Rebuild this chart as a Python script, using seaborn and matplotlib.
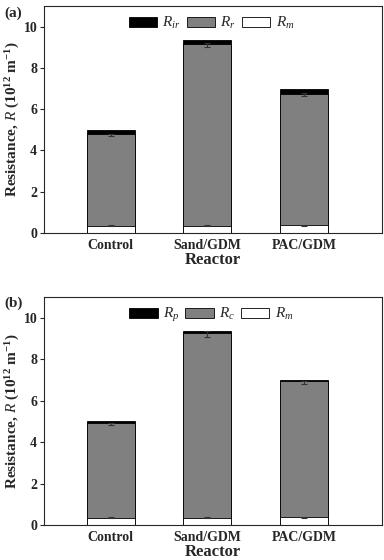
import numpy as np
import pandas as pd
import matplotlib
matplotlib.use("Agg")
import matplotlib.pyplot as plt
import seaborn as sns
from matplotlib.patches import Patch

sns.set_style("ticks")
plt.rcParams['font.family'] = ['Liberation Serif', 'DejaVu Serif']
plt.rcParams['mathtext.fontset'] = 'custom'
plt.rcParams['mathtext.it'] = 'Liberation Serif:italic'
plt.rcParams['mathtext.rm'] = 'Liberation Serif:bold'
plt.rcParams['mathtext.bf'] = 'Liberation Serif:bold'

reactors = ['Control', 'Sand/GDM', 'PAC/GDM']

# panel (a): membrane, reversible, irreversible resistance
a_rm = [0.35, 0.35, 0.38]
a_rr = [4.45, 8.80, 6.37]
a_rir = [0.20, 0.20, 0.23]
a_rr_err = [0.06, 0.10, 0.08]
a_rm_err = [0.02, 0.02, 0.02]

# panel (b): membrane, cake, pore blocking resistance
b_rm = [0.35, 0.35, 0.37]
b_rc = [4.57, 8.90, 6.55]
b_rp = [0.08, 0.10, 0.08]
b_rc_err = [0.06, 0.15, 0.08]
b_rm_err = [0.02, 0.02, 0.02]

fig = plt.figure(figsize=(3.84, 5.6), dpi=100)
ax1 = fig.add_axes([0.115, 0.584, 0.88, 0.405])
ax2 = fig.add_axes([0.115, 0.0625, 0.88, 0.4075])


def draw_panel(ax, rm, mid, top, mid_err, rm_err, labels, tag):
    df = pd.DataFrame({'Reactor': reactors,
                       'rm': rm,
                       'mid': np.array(rm) + np.array(mid),
                       'total': np.array(rm) + np.array(mid) + np.array(top)})
    sns.barplot(data=df, x='Reactor', y='total', color='black', width=0.5,
                edgecolor='black', linewidth=0.6, saturation=1, ax=ax)
    sns.barplot(data=df, x='Reactor', y='mid', color='#808080', width=0.5,
                edgecolor='black', linewidth=0.6, saturation=1, ax=ax)
    sns.barplot(data=df, x='Reactor', y='rm', color='white', width=0.5,
                edgecolor='black', linewidth=0.6, saturation=1, ax=ax)
    xs = np.arange(len(reactors))
    ax.errorbar(xs, df['mid'] - 0.05, yerr=mid_err, fmt='none', ecolor='#333333',
                elinewidth=0.8, capsize=2.5, capthick=0.8)
    ax.errorbar(xs, df['rm'], yerr=rm_err, fmt='none', ecolor='#333333',
                elinewidth=0.8, capsize=2.5, capthick=0.8)
    ax.set_xlim(-0.69, 2.81)
    ax.set_ylim(0, 11)
    ax.set_yticks([0, 2, 4, 6, 8, 10])
    ax.tick_params(axis='y', direction='out', length=3, width=0.8, labelsize=10, pad=2)
    ax.tick_params(axis='x', length=0, labelsize=10, pad=4)
    for lab in ax.get_xticklabels() + ax.get_yticklabels():
        lab.set_fontweight('bold')
    for sp in ax.spines.values():
        sp.set_visible(True)
        sp.set_linewidth(0.8)
    ax.set_xlabel('Reactor', fontsize=12, fontweight='bold', labelpad=0)
    ax.set_ylabel(r'Resistance, $\mathit{R}$ (10$^{12}$ m$^{-1}$)', fontsize=11,
                  fontweight='bold', labelpad=1)
    handles = [Patch(facecolor='black', edgecolor='black', linewidth=0.6),
               Patch(facecolor='#808080', edgecolor='black', linewidth=0.6),
               Patch(facecolor='white', edgecolor='black', linewidth=0.6)]
    ax.legend(handles, labels, loc='upper center', ncol=3, frameon=False,
              fontsize=11, handlelength=1.85, handleheight=0.65, handletextpad=0.35,
              columnspacing=0.4, bbox_to_anchor=(0.495, 1.0), borderaxespad=0.2)
    fig.text(0.012, ax.get_position().y1 - 0.012, tag, fontsize=11,
             fontweight='bold', va='center', ha='left')


draw_panel(ax1, a_rm, a_rr, a_rir, a_rr_err, a_rm_err,
           [r'$\mathit{R}_{ir}$', r'$\mathit{R}_{r}$', r'$\mathit{R}_{m}$'], '(a)')
draw_panel(ax2, b_rm, b_rc, b_rp, b_rc_err, b_rm_err,
           [r'$\mathit{R}_{p}$', r'$\mathit{R}_{c}$', r'$\mathit{R}_{m}$'], '(b)')

fig.savefig('out.png', dpi=100)
